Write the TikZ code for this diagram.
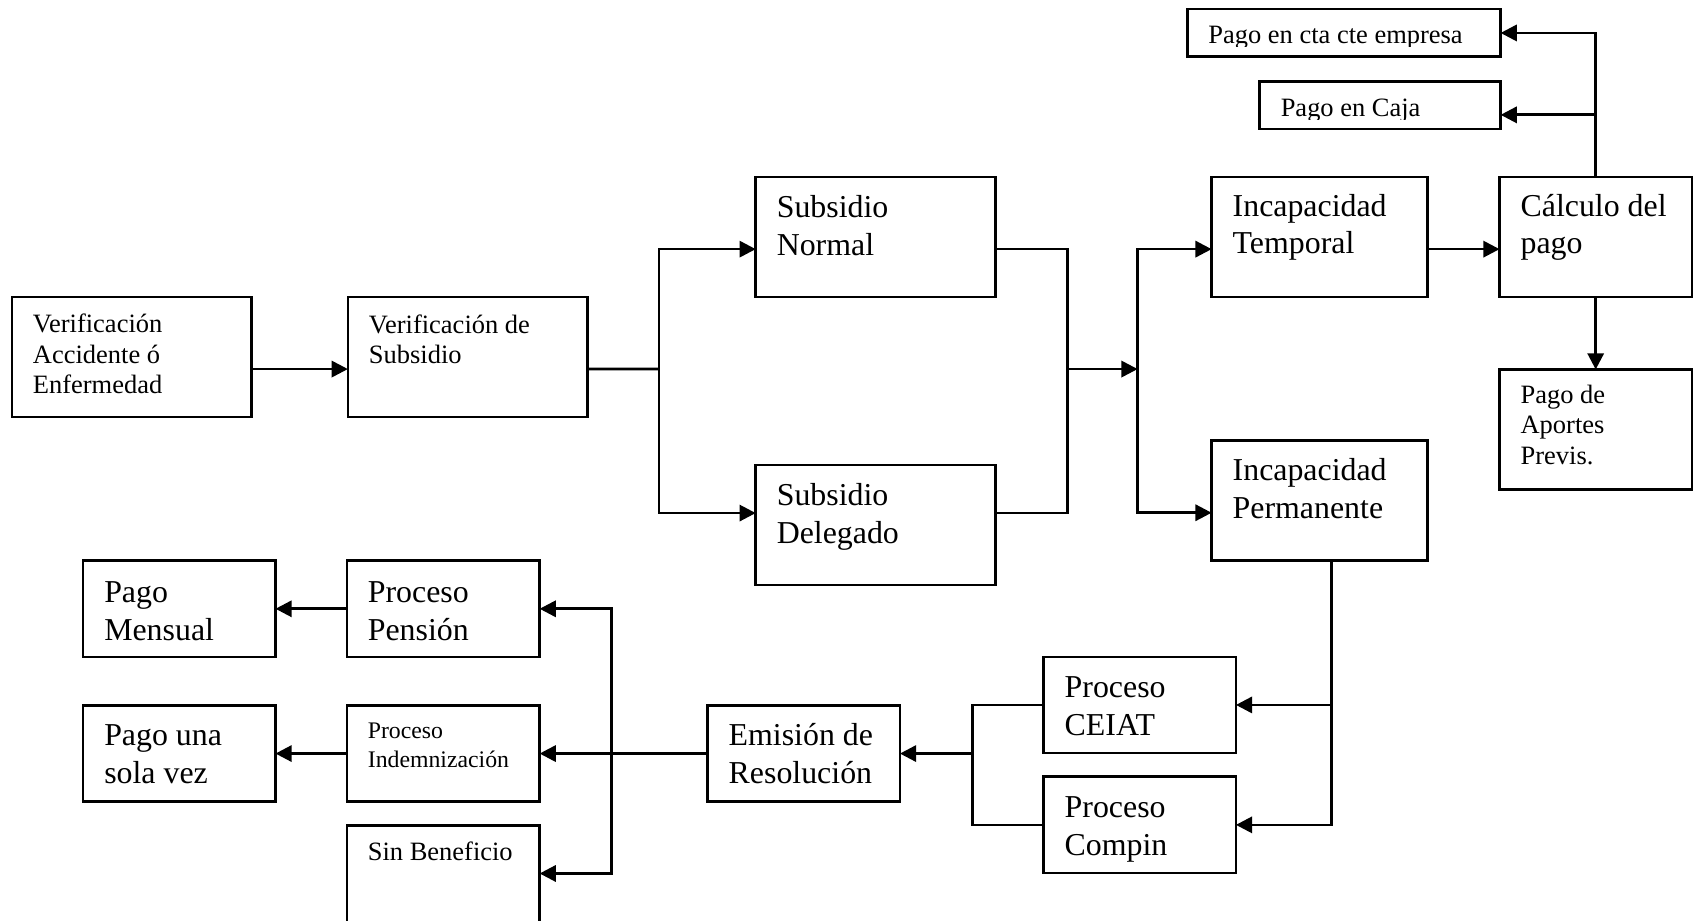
\documentclass[tikz,border=0pt]{standalone}
\usepackage{fontspec}
\setmainfont{Liberation Serif}
\usetikzlibrary{arrows.meta,calc}

% first-line strut: fixes the distance from the top of a text block to its first baseline
\newcommand\topln{\rule{0pt}{0.8em}}

\begin{document}
\begin{tikzpicture}[x=1pt, y=-1pt,
  box/.style={draw, line width=2.4pt, inner sep=0pt, outer sep=0pt, anchor=north west},
  tx/.style={anchor=north west, inner sep=0pt, outer sep=0pt, align=left},
  big/.style={font=\fontsize{29.5}{35}\selectfont},
  mid/.style={font=\fontsize{24.5}{28}\selectfont},
  sml/.style={font=\fontsize{22}{26.3}\selectfont},
  ln/.style={line width=2.5pt},
  arr/.style={ln, -{Triangle[length=15pt,width=15pt]}}
]
\useasboundingbox (0,0) rectangle (1568,852);
\clip (0,0) rectangle (1568,852);

% ---------- boxes ----------
\node[box, minimum width=222pt, minimum height=111pt] (A)  at (11,275)    {};
\node[box, minimum width=222pt, minimum height=111pt] (B)  at (322,275)   {};
\node[box, minimum width=222pt, minimum height=111pt] (SN) at (699.5,164) {};
\node[box, minimum width=222pt, minimum height=111pt] (SD) at (699.5,430.5) {};
\node[box, minimum width=200pt, minimum height=111pt] (IT) at (1121.5,164) {};
\node[box, minimum width=200pt, minimum height=111pt] (IP) at (1121.5,408) {};
\node[box, minimum width=178pt, minimum height=111pt] (CP) at (1388,164)  {};
\node[box, minimum width=178pt, minimum height=111pt] (PA) at (1388,342)  {};
\node[box, minimum width=290pt, minimum height=44pt]  (CT) at (1099,8.5)  {};
\node[box, minimum width=223pt, minimum height=44pt]  (CJ) at (1166,75.5) {};
\node[box, minimum width=178pt, minimum height=89pt]  (PM) at (77,519)    {};
\node[box, minimum width=178.5pt, minimum height=89pt] (PP) at (321,519)  {};
\node[box, minimum width=178pt, minimum height=89pt]  (PU) at (77,653)    {};
\node[box, minimum width=178.5pt, minimum height=89pt] (PI) at (321,653)  {};
\node[box, minimum width=178.5pt, minimum height=110pt] (SB) at (321,764) {};
\node[box, minimum width=178pt, minimum height=89pt]  (ER) at (655,653)   {};
\node[box, minimum width=178pt, minimum height=89pt]  (CE) at (966,608)   {};
\node[box, minimum width=178pt, minimum height=89pt]  (CO) at (966,719)   {};

% ---------- texts ----------
\node[tx, mid] (At)  at ([xshift=19.5pt, yshift=-13.4pt]A.north west)  {\topln Verificación\\Accidente ó\\Enfermedad};
\node[tx, mid] (Bt)  at ([xshift=19.5pt, yshift=-13.7pt]B.north west)  {\topln Verificación de\\Subsidio};
\node[tx, big] (SNt) at ([xshift=19.5pt, yshift=-13.8pt]SN.north west) {\topln Subsidio\\Normal};
\node[tx, big] (SDt) at ([xshift=19.5pt, yshift=-13.8pt]SD.north west) {\topln Subsidio\\Delegado};
\node[tx, big] (ITt) at ([xshift=19.5pt, yshift=-12.5pt]IT.north west) {\topln Incapacidad\\Temporal};
\node[tx, big] (IPt) at ([xshift=19.5pt, yshift=-13.2pt]IP.north west) {\topln Incapacidad\\Permanente};
\node[tx, big] (CPt) at ([xshift=19.5pt, yshift=-12.5pt]CP.north west) {\topln Cálculo del\\pago};
\node[tx, mid] (PAt) at ([xshift=19.5pt, yshift=-12pt]PA.north west)   {\topln Pago de\\Aportes\\Previs.};
\node[tx, big] (PMt) at ([xshift=19.5pt, yshift=-14.8pt]PM.north west) {\topln Pago\\Mensual};
\node[tx, big] (PPt) at ([xshift=19.5pt, yshift=-14.8pt]PP.north west) {\topln Proceso\\Pensión};
\node[tx, big] (PUt) at ([xshift=19.5pt, yshift=-13.8pt]PU.north west) {\topln Pago una\\sola vez};
\node[tx, sml] (PIt) at ([xshift=19.5pt, yshift=-13.3pt]PI.north west) {\topln Proceso\\Indemnización};
\node[tx, mid] (SBt) at ([xshift=19.5pt, yshift=-12.8pt]SB.north west) {\topln Sin Beneficio};
\node[tx, big] (ERt) at ([xshift=19.5pt, yshift=-13.8pt]ER.north west) {\topln Emisión de\\Resolución};
\node[tx, big] (CEt) at ([xshift=19.5pt, yshift=-13.8pt]CE.north west) {\topln Proceso\\CEIAT};
\node[tx, big] (COt) at ([xshift=19.5pt, yshift=-13.8pt]CO.north west) {\topln Proceso\\Compin};

% the two payment boxes clip their text at the inner margin
\begin{scope}
  \clip (CT.north west) rectangle ([yshift=9.3pt]CT.south east);
  \node[tx, mid] (CTt) at ([xshift=19.5pt, yshift=-12.5pt]CT.north west) {\topln Pago en cta cte empresa};
\end{scope}
\begin{scope}
  \clip (CJ.north west) rectangle ([yshift=9.3pt]CJ.south east);
  \node[tx, mid] (CJt) at ([xshift=19.5pt, yshift=-12.7pt]CJ.north west) {\topln Pago en Caja};
\end{scope}

% ---------- connection points ----------
\coordinate (Ao)   at ($(A.north east)!.6!(A.south east)$);
\coordinate (Bi)   at ($(B.north west)!.6!(B.south west)$);
\coordinate (Bo)   at ($(B.north east)!.6!(B.south east)$);
\coordinate (SNi)  at ($(SN.north west)!.6!(SN.south west)$);
\coordinate (SDi)  at ($(SD.north west)!.4!(SD.south west)$);
\coordinate (SNo)  at ($(SN.north east)!.6!(SN.south east)$);
\coordinate (SDo)  at ($(SD.north east)!.4!(SD.south east)$);
\coordinate (ITi)  at ($(IT.north west)!.6!(IT.south west)$);
\coordinate (ITo)  at ($(IT.north east)!.6!(IT.south east)$);
\coordinate (IPi)  at ($(IP.north west)!.6!(IP.south west)$);
\coordinate (CPi)  at ($(CP.north west)!.6!(CP.south west)$);
\coordinate (CJi)  at ($(CJ.north east)!.7!(CJ.south east)$);
\coordinate (SBi)  at ([yshift=-44.5pt]SB.north east);

% junctions
\coordinate (j1) at (610,341.6);
\coordinate (j2) at (988,341.6);
\coordinate (j3) at (1053,341.6);
\coordinate (j5) at ([xshift=11pt]IP.south);
\coordinate (j6) at (900,697.5);
\coordinate (j7) at (566,697.5);

% ---------- connectors ----------
\draw[arr] (Ao) -- (Bi);
\draw[ln]  (Bo) -- (j1);
\draw[arr] (j1) |- (SNi);
\draw[arr] (j1) |- (SDi);
\draw[ln]  (SNo) -| (j2) |- (SDo);
\draw[arr] (j2) -- (j3);
\draw[arr] (j3) |- (ITi);
\draw[arr] (j3) |- (IPi);
\draw[arr] (ITo) -- (CPi);
\draw[arr] (CP.north) |- (CT.east);
\draw[arr] (CP.north |- CJi) -- (CJi);
\draw[arr] (CP.south) -- (PA.north);

\draw[arr] (j5) |- (CO.east);
\draw[arr] (j5 |- CE.east) -- (CE.east);
\draw[ln]  (CE.west) -| (j6) |- (CO.west);
\draw[arr] (j6) -- (ER.east);
\draw[ln]  (ER.west) -- (j7);
\draw[arr] (j7) |- (PP.east);
\draw[arr] (j7) -- (PI.east);
\draw[arr] (j7) |- (SBi);
\draw[arr] (PP.west) -- (PM.east);
\draw[arr] (PI.west) -- (PU.east);
\end{tikzpicture}
\end{document}
